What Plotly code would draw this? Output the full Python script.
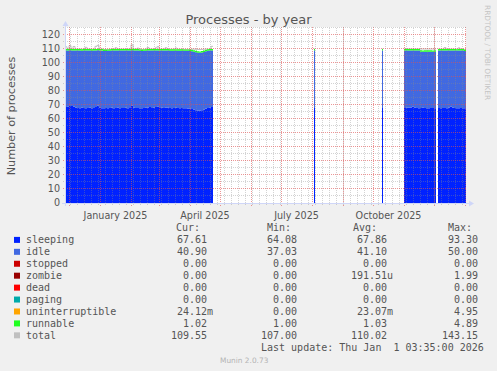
import pandas as pd
import plotly.graph_objects as go

# ---------------- data ----------------
# data is present in a few date segments (daily RRA consolidated into bins)
segment_starts = ["2024-11-27", "2025-08-03", "2025-10-10", "2025-11-01", "2025-12-05"]
segment_bin_days = [2, 1, 1, 2, 2]
segment_bins = [74, 1, 1, 16, 14]

sleeping = [
    68.6, 68.9, 69.2, 69.3, 68.8, 68.0, 67.8, 67.7, 68.0, 67.9,
    67.6, 67.8, 68.1, 67.7, 67.9, 68.6, 69.4, 68.0, 67.7, 67.6,
    67.8, 67.7, 67.9, 68.0, 67.6, 67.8, 68.2, 67.7, 67.9, 67.8,
    68.0, 67.7, 68.4, 69.5, 68.3, 67.8, 67.9, 67.7, 67.6, 67.8,
    68.0, 68.3, 68.5, 67.9, 68.1, 68.6, 68.8, 68.4, 68.1, 67.8,
    68.0, 68.3, 67.9, 67.7, 67.8, 68.0, 67.9, 67.7, 67.8, 67.6,
    67.7, 67.5, 67.4, 67.2, 66.8, 66.3, 66.0, 65.9, 66.2, 66.7,
    67.4, 67.9, 68.2, 68.6,
    67.9,
    67.8,
    67.9, 68.0, 68.1, 68.3, 68.9, 68.2, 67.8, 67.7, 67.9, 68.0, 67.8, 67.6, 67.7, 67.9, 67.8, 67.7,
    67.8, 67.7, 67.9, 67.8, 67.7, 68.0, 68.7, 68.1, 67.8, 67.7, 67.6, 67.8, 67.7, 67.6,
]
idle = [
    40.4, 40.1, 39.9, 39.7, 40.1, 40.9, 41.1, 41.2, 40.8, 41.0,
    41.3, 41.1, 40.8, 41.1, 41.0, 40.4, 39.7, 40.9, 41.0, 41.0,
    40.8, 41.0, 40.9, 40.9, 41.3, 41.1, 40.8, 41.2, 41.0, 41.1,
    40.9, 41.2, 40.6, 39.6, 40.6, 41.1, 41.0, 41.0, 41.0, 40.9,
    40.8, 40.6, 40.4, 41.0, 40.8, 40.4, 40.2, 40.5, 40.8, 41.1,
    40.9, 40.6, 40.9, 41.1, 41.0, 40.8, 40.9, 41.1, 41.0, 41.1,
    41.0, 41.2, 41.2, 41.2, 41.3, 41.4, 41.4, 41.4, 41.3, 41.2,
    41.0, 40.9, 40.7, 40.4,
    41.0,
    41.1,
    41.1, 41.0, 40.9, 40.7, 40.1, 40.8, 41.2, 41.3, 40.1, 40.0, 40.2, 40.4, 40.3, 40.1, 40.2, 40.3,
    41.1, 41.2, 41.0, 41.1, 41.2, 40.9, 40.2, 40.8, 41.1, 41.2, 41.3, 41.1, 41.2, 40.9,
]
stopped = [
    0, 0, 0, 0, 0, 0, 0, 0, 0, 0, 0, 0, 0, 0, 0, 0, 0, 0, 0, 0,
    0, 0, 0, 0, 0, 0, 0, 0, 0, 0, 0, 0, 0, 0, 0, 0, 0, 0, 0, 0,
    0, 0, 0, 0, 0, 0, 0, 0, 0, 0, 0, 0, 0, 0, 0, 0, 0, 0, 0, 0,
    0, 0, 0, 0, 0, 0, 0, 0, 0, 0, 0, 0, 0, 0,
    0,
    0,
    0, 0, 0, 0, 0, 0, 0, 0, 0, 0, 0, 0, 0, 0, 0, 0,
    0, 0, 0, 0, 0, 0, 0, 0, 0, 0, 0, 0, 0, 0,
]
zombie = [
    0, 0, 0, 0, 0, 0, 0, 0, 0, 0, 0, 0, 0, 0, 0, 0, 0, 0, 0, 0,
    0, 0, 0, 0, 0, 0, 0, 0, 0, 0, 0, 0, 0, 0, 0, 0, 0, 0, 0, 0,
    0, 0, 0, 0, 0, 0, 0, 0, 0, 0, 0, 0, 0, 0, 0, 0, 0, 0, 0, 0,
    0, 0, 0, 0, 0, 0, 0, 0, 0, 0, 0, 0, 0, 0,
    0,
    0,
    0, 0, 0, 0, 0, 0, 0, 0, 0, 0, 0, 0, 0, 0, 0, 0,
    0, 0, 0, 0, 0, 0, 0, 0, 0, 0, 0, 0, 0, 0,
]
dead = [
    0, 0, 0, 0, 0, 0, 0, 0, 0, 0, 0, 0, 0, 0, 0, 0, 0, 0, 0, 0,
    0, 0, 0, 0, 0, 0, 0, 0, 0, 0, 0, 0, 0, 0, 0, 0, 0, 0, 0, 0,
    0, 0, 0, 0, 0, 0, 0, 0, 0, 0, 0, 0, 0, 0, 0, 0, 0, 0, 0, 0,
    0, 0, 0, 0, 0, 0, 0, 0, 0, 0, 0, 0, 0, 0,
    0,
    0,
    0, 0, 0, 0, 0, 0, 0, 0, 0, 0, 0, 0, 0, 0, 0, 0,
    0, 0, 0, 0, 0, 0, 0, 0, 0, 0, 0, 0, 0, 0,
]
paging = [
    0, 0, 0, 0, 0, 0, 0, 0, 0, 0, 0, 0, 0, 0, 0, 0, 0, 0, 0, 0,
    0, 0, 0, 0, 0, 0, 0, 0, 0, 0, 0, 0, 0, 0, 0, 0, 0, 0, 0, 0,
    0, 0, 0, 0, 0, 0, 0, 0, 0, 0, 0, 0, 0, 0, 0, 0, 0, 0, 0, 0,
    0, 0, 0, 0, 0, 0, 0, 0, 0, 0, 0, 0, 0, 0,
    0,
    0,
    0, 0, 0, 0, 0, 0, 0, 0, 0, 0, 0, 0, 0, 0, 0, 0,
    0, 0, 0, 0, 0, 0, 0, 0, 0, 0, 0, 0, 0, 0,
]
uninterruptible = [
    0, 0, 0, 0, 0, 0, 0, 0, 0, 0, 0, 0, 0, 0, 0, 0, 0, 0, 0.3, 0,
    0, 0, 0, 0, 0, 0, 0, 0, 0, 0, 0, 0, 0, 0, 0, 0, 0, 0, 0, 0,
    0, 0, 0, 0, 0, 0, 0, 0, 0, 0, 0, 0, 0, 0, 0, 0, 0, 0, 0, 0,
    0, 0, 0, 0, 0, 0, 0, 0, 0, 0, 0, 0, 0, 0,
    0,
    0,
    0, 0, 0, 0, 0, 0, 0, 0, 0, 0, 0, 0, 0, 0, 0, 0,
    0, 0, 0, 0, 0, 0, 0, 0, 0, 0, 0, 0, 0, 0,
]
runnable = [
    1.05, 1.04, 1.08, 1.06, 1.03, 1.02, 1.03, 1.04, 1.02, 1.03,
    1.05, 1.02, 1.03, 1.02, 1.04, 1.06, 1.08, 1.03, 1.02, 1.01,
    1.02, 1.03, 1.02, 1.03, 1.02, 1.04, 1.05, 1.03, 1.02, 1.03,
    1.02, 1.03, 1.04, 1.09, 1.04, 1.02, 1.03, 1.02, 1.01, 1.02,
    1.03, 1.04, 1.05, 1.03, 1.02, 1.04, 1.06, 1.03, 1.02, 1.03,
    1.02, 1.04, 1.03, 1.02, 1.03, 1.02, 1.03, 1.02, 1.03, 1.02,
    1.01, 1.02, 1.02, 1.01, 1.02, 1.01, 1.01, 1.00, 1.01, 1.02,
    1.03, 1.02, 1.03, 1.05,
    1.05,
    1.04,
    1.03, 1.02, 1.04, 1.05, 1.06, 1.03, 1.02, 1.03, 1.02, 1.01, 1.02, 1.03, 1.02, 1.02, 1.01, 1.02,
    1.02, 1.03, 1.02, 1.05, 1.02, 1.03, 1.04, 1.03, 1.02, 1.01, 1.03, 1.02, 1.02, 1.02,
]
total = [
    111.6, 110.04, 112.4, 110.06, 111.8, 109.92, 109.93, 109.94, 109.82, 109.93,
    111.2, 109.92, 109.93, 109.82, 109.94, 111.9, 112.6, 109.93, 110.02, 109.61,
    109.62, 109.73, 109.82, 109.93, 109.92, 110.9, 110.05, 109.93, 109.92, 109.93,
    109.92, 109.93, 110.04, 113.0, 109.94, 109.92, 110.6, 109.72, 109.61, 109.72,
    109.83, 111.1, 109.95, 109.93, 109.92, 110.8, 111.7, 109.93, 109.92, 109.93,
    110.9, 109.94, 109.83, 109.82, 109.83, 110.7, 109.83, 109.82, 109.83, 109.72,
    109.71, 109.72, 109.62, 109.9, 109.9, 109.8, 109.7, 109.6, 109.7, 109.8,
    109.9, 109.83, 109.92, 111.9,
    109.95,
    109.94,
    110.03, 110.02, 110.04, 110.05, 110.06, 110.03, 110.02, 110.03, 110.0, 110.0, 110.0, 110.0, 110.0, 110.0, 110.0, 110.0,
    109.92, 109.93, 109.92, 111.0, 109.92, 109.93, 109.94, 109.93, 109.92, 109.91, 110.8, 109.92, 109.92, 109.55,
]

series_names = ["sleeping", "idle", "stopped", "zombie", "dead", "paging",
                "uninterruptible", "runnable", "total"]
series_colors = ["#0022ff", "#4169e1", "#cc0000", "#990000", "#ff0000", "#00aaaa",
                 "#ffa500", "#22ff22", "#c0c0c0"]
cur_vals = ["67.61", "40.90", "0.00", "0.00", "0.00", "0.00", "24.12m", "1.02", "109.55"]
min_vals = ["64.08", "37.03", "0.00", "0.00", "0.00", "0.00", "0.00", "1.00", "107.00"]
avg_vals = ["67.86", "41.10", "0.00", "191.51u", "0.00", "0.00", "23.07m", "1.03", "110.02"]
max_vals = ["93.30", "50.00", "0.00", "1.99", "0.00", "0.00", "4.95", "4.89", "143.15"]

x_label_months = ["2025-01-01", "2025-04-01", "2025-07-01", "2025-10-01"]
x_label_text = ["January 2025", "April 2025", "July 2025", "October 2025"]
y_tick_values = [0, 10, 20, 30, 40, 50, 60, 70, 80, 90, 100, 110, 120]

title_text = "Processes - by year"
y_title = "Number of processes"
last_update = "Last update: Thu Jan\u00a0\u00a01 03:35:00 2026"
side_text = "RRDTOOL / TOBI OETIKER"
munin_text = "Munin 2.0.73"

# view window: 400 days at 1 px per day
X_START = "2024-11-28 00:00"
X_END = "2026-01-02 00:00"

# ---------------- geometry ----------------
W, H = 497, 371
ML, MT = 66, 27
PW, PH = 400, 176
MR, MB = W - ML - PW, H - MT - PH
PX_PER_UNIT = 1.4
Y_HALF_PX = 0.5 / PX_PER_UNIT         # half a pixel in value units (crisp grid)
Y_MAX = PH / PX_PER_UNIT
GRID_X_OFFSET = pd.Timedelta(hours=12)  # half a pixel in time (crisp grid)

TXT = "#555555"
SANS = "DejaVu Sans"
MONO = "DejaVu Sans Mono"


def px(x):
    return (x - ML) / PW


def py(y):
    return (MT + PH - y) / PH


def fmt(t):
    return t.strftime("%Y-%m-%d %H:%M")


# segment index ranges
segments = []
i0 = 0
for s, d, n in zip(segment_starts, segment_bin_days, segment_bins):
    starts = pd.date_range(s, periods=n, freq=f"{d}D")
    xs = [fmt(t) for t in starts] + [fmt(starts[-1] + pd.Timedelta(days=d))]
    segments.append((xs, i0, i0 + n))
    i0 += n

fig = go.Figure()

# total line first (so the stacked areas sit on top of it)
tx, ty = [], []
for xs, a, b in segments:
    vals = total[a:b]
    tx += xs + [None]
    ty += vals + [vals[-1]] + [None]
fig.add_trace(go.Scatter(x=tx, y=ty, mode="lines", connectgaps=False,
                         line=dict(color=series_colors[8], width=1, shape="hv"),
                         hoverinfo="skip"))

stack_series = [sleeping, idle, stopped, zombie, dead, paging, uninterruptible, runnable]
for k, (xs, a, b) in enumerate(segments):
    for s_idx, vals in enumerate(stack_series):
        v = vals[a:b]
        fig.add_trace(go.Scatter(
            x=xs, y=v + [v[-1]], mode="lines", stackgroup=f"seg{k}",
            line=dict(width=0, shape="hv", color=series_colors[s_idx]),
            fillcolor=series_colors[s_idx], hoverinfo="skip"))

shapes = []
MINOR = "rgba(140,140,140,0.38)"
MAJOR = "rgba(225,80,80,0.6)"
# grid (drawn on top of the areas as rrdtool does)
for wk in pd.date_range("2024-12-02", "2025-12-29", freq="7D"):
    t = fmt(wk + GRID_X_OFFSET)
    shapes.append(dict(type="line", xref="x", yref="paper", x0=t, x1=t,
                       y0=-2 / PH, y1=1, layer="above",
                       line=dict(color=MINOR, width=1, dash="1px,1px")))
for mo in pd.date_range("2024-12-01", "2026-01-01", freq="MS"):
    t = fmt(mo + GRID_X_OFFSET)
    shapes.append(dict(type="line", xref="x", yref="paper", x0=t, x1=t,
                       y0=-3 / PH, y1=1, layer="above",
                       line=dict(color=MAJOR, width=1, dash="1px,1px")))
for v in range(5, 126, 5):
    major = v % 10 == 0
    yv = v + Y_HALF_PX
    shapes.append(dict(type="line", xref="paper", yref="y", x0=-3 / PW, x1=1, y0=yv, y1=yv,
                       layer="above",
                       line=dict(color=MAJOR if major else MINOR, width=1, dash="1px,1px")))
# axes with arrows
AX = "#cfd6f8"
shapes.append(dict(type="line", xref="paper", yref="paper", x0=px(62), x1=px(471),
                   y0=py(203.5), y1=py(203.5), layer="above", line=dict(color=AX, width=1)))
shapes.append(dict(type="path", xref="paper", yref="paper", layer="above",
                   path=f"M{px(469)},{py(200.5)} L{px(474)},{py(203.5)} L{px(469)},{py(206.5)} Z",
                   fillcolor=AX, line=dict(width=0)))
shapes.append(dict(type="line", xref="paper", yref="paper", x0=px(65.5), x1=px(65.5),
                   y0=py(206), y1=py(24), layer="above", line=dict(color=AX, width=1)))
shapes.append(dict(type="path", xref="paper", yref="paper", layer="above",
                   path=f"M{px(62.5)},{py(26)} L{px(65.5)},{py(21)} L{px(68.5)},{py(26)} Z",
                   fillcolor=AX, line=dict(width=0)))

annotations = []


def ann(text, x, y, anchor="left", size=10, family=MONO, color=TXT, angle=0):
    annotations.append(dict(text=text, x=px(x), y=py(y), xref="paper", yref="paper",
                            xanchor=anchor, yanchor="middle", showarrow=False,
                            borderpad=0, borderwidth=0, textangle=angle,
                            font=dict(family=family, size=size, color=color)))


# legend table
row0, dy = 239.9, 11.93
ann("Cur:", 176, 227.7)
ann("Min:", 267, 227.7)
ann("Avg:", 353, 227.7)
ann("Max:", 448, 227.7)
for k, name in enumerate(series_names):
    yy = row0 + dy * k
    shapes.append(dict(type="rect", xref="paper", yref="paper", x0=px(14), x1=px(20),
                       y0=py(yy + 3), y1=py(yy - 3), fillcolor=series_colors[k],
                       line=dict(width=0), layer="above"))
    ann(name, 26.2, yy)
    for col_right, val in zip([212.8, 303.1, 393.4, 483.7],
                              [cur_vals[k], min_vals[k], avg_vals[k], max_vals[k]]):
        txt = val if val[-1].isalpha() else val + "\u00a0"
        ann(txt, col_right, yy, anchor="right")
ann(last_update, 483.7, 347.3, anchor="right")
ann(munin_text, 244, 360, anchor="center", size=7.4, family=SANS, color="#b4b4b4")
ann(side_text, 488, 52, anchor="center", size=7.4, family=SANS, color="#c4c4c4", angle=90)
ann(y_title, 11, 115.3, anchor="center", size=11.2, family=SANS, angle=-90)

# x tick labels in the middle of their month
mid_vals = []
for m in x_label_months:
    t0 = pd.Timestamp(m)
    t1 = t0 + pd.offsets.MonthBegin(1)
    mid_vals.append(fmt(t0 + (t1 - t0) / 2))

fig.update_layout(
    width=W, height=H,
    margin=dict(l=ML, r=MR, t=MT, b=MB, pad=0, autoexpand=False),
    paper_bgcolor="#f0f0f0", plot_bgcolor="#ffffff", showlegend=False,
    title=dict(text=title_text, x=0.5, xref="container", xanchor="center",
               y=1 - 19.5 / H, yref="container", yanchor="middle",
               font=dict(family=SANS, size=13, color=TXT)),
    xaxis=dict(type="date", range=[X_START, X_END], tickmode="array",
               tickvals=mid_vals, ticktext=x_label_text, ticks="outside", ticklen=3,
               tickcolor="rgba(0,0,0,0)", showgrid=False, zeroline=False, showline=False,
               tickfont=dict(family=SANS, size=9.6, color=TXT)),
    yaxis=dict(range=[0, Y_MAX], tickmode="array", tickvals=y_tick_values,
               ticks="outside", ticklen=3, tickcolor="rgba(0,0,0,0)",
               showgrid=False, zeroline=False, showline=False,
               tickfont=dict(family=SANS, size=9.6, color=TXT)),
    shapes=shapes, annotations=annotations,
)

fig.write_html("out.html", config={"displayModeBar": False},
               post_script="document.body.style.margin='0px';"
                           "document.body.style.overflow='hidden';")
